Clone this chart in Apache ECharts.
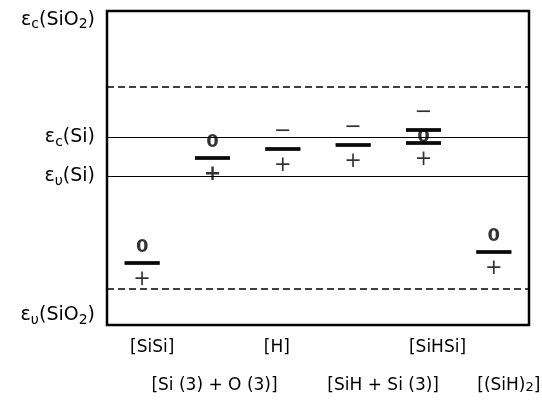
<!DOCTYPE html>
<html>
<head>
<meta charset="utf-8">
<script src="https://cdn.jsdelivr.net/npm/echarts@6/dist/echarts.min.js"></script>
<style>
  html, body { margin: 0; padding: 0; background: #fff; }
  #chart { width: 542px; height: 401px; }
</style>
</head>
<body>
<div id="chart"></div>
<script>
// defects along the x axis
const categories = ['[SiSi]', '[Si (3) + O (3)]', '[H]', '[SiH + Si (3)]', '[SiHSi]', '[(SiH)2]'];

// defect levels, eV above the SiO2 valence band edge
const levelCat = [0, 1, 2, 3, 4, 4, 5];
const levelEnergy = [1.76, 4.73, 4.99, 5.10, 5.53, 5.16, 2.07];
const chargeAbove = ['0', '0', '\u2212', '\u2212', '\u2212', '0', '0'];
const chargeBelow = ['+', '+', '+', '+', '', '+', '+'];

// reference energies
const edgeNames = ['\u03b5{s|c}(SiO{s|2})', '\u03b5{s|c}(Si)', '\u03b5{s|\u03c5}(Si)', '\u03b5{s|\u03c5}(SiO{s|2})'];
const edgeEnergy = [8.65, 5.33, 4.22, 0.28];
const dashedEnergy = [6.75, 1.02];

const FONT = 'DejaVu Sans';
const chart = echarts.init(document.getElementById('chart'));

const shift = [10, 2, -6, 30, 14, 15];
const xData = categories.map((c, i) => {
  const s = shift[i];
  const top = i % 2 ? 38 : 0;
  return { value: c, textStyle: { padding: [top, s < 0 ? -2 * s : 0, 0, s > 0 ? 2 * s : 0] } };
});

function chargeLabel(txt, pos, dist, bold) {
  return {
    show: txt !== '',
    position: pos,
    distance: dist,
    formatter: txt,
    color: '#000',
    fontFamily: FONT,
    fontWeight: bold ? 'bold' : 'normal',
    fontSize: txt === '0' ? 18 : 21
  };
}

const topData = levelEnergy.map((e, i) => ({
  value: [levelCat[i], e],
  label: chargeLabel(chargeAbove[i], 'top', (i === 5 ? -5 : 5), chargeAbove[i] === '0')
}));
const bottomData = levelEnergy.map((e, i) => ({
  value: [levelCat[i], e],
  label: chargeLabel(chargeBelow[i], 'bottom', 4, i === 1)
}));

const edgeLabel = name => ({
  show: true,
  position: 'start',
  distance: 12,
  formatter: name,
  color: '#000',
  fontFamily: FONT,
  fontSize: 19,
  lineHeight: 24,
  rich: { s: { fontFamily: FONT, fontSize: 14, lineHeight: 14, verticalAlign: 'bottom', color: '#000' } }
});

const markData = edgeNames.map((n, i) => {
  const visible = i === 1 || i === 2;
  return {
    yAxis: edgeEnergy[i],
    label: edgeLabel(n),
    lineStyle: visible ? { color: '#000', width: 1, type: 'solid' } : { color: 'rgba(0,0,0,0)', width: 0 }
  };
}).concat(dashedEnergy.map(e => ({
  yAxis: e,
  label: { show: false },
  lineStyle: { color: '#000', width: 1.6, type: [7, 4] }
})));

chart.setOption({
  animation: false,
  grid: {
    left: 107, top: 11, width: 422, height: 314,
    outerBoundsMode: 'none', containLabel: false,
    show: true, borderColor: '#000', borderWidth: 2.5
  },
  xAxis: {
    type: 'category',
    data: xData,
    boundaryGap: true,
    axisLine: { show: false },
    axisTick: { show: false },
    splitLine: { show: false },
    axisLabel: {
      interval: 0,
      margin: 14,
      color: '#000',
      fontFamily: FONT,
      fontSize: 17,
      formatter: v => v.replace(')2]', '){s|2}]'),
      rich: { s: { fontFamily: FONT, fontSize: 13, lineHeight: 13, verticalAlign: 'bottom', color: '#000' } }
    }
  },
  yAxis: {
    type: 'value',
    min: 0,
    max: 8.9,
    axisLine: { show: false },
    axisTick: { show: false },
    axisLabel: { show: false },
    splitLine: { show: false }
  },
  series: [
    {
      type: 'scatter',
      symbol: 'rect',
      symbolSize: [35, 3.5],
      itemStyle: { color: '#000' },
      silent: true,
      data: topData,
      markLine: { silent: true, symbol: ['none', 'none'], animation: false, data: markData }
    },
    {
      type: 'scatter',
      symbol: 'rect',
      symbolSize: [35, 3.5],
      itemStyle: { color: '#000' },
      silent: true,
      data: bottomData
    }
  ]
});
</script>
</body>
</html>
